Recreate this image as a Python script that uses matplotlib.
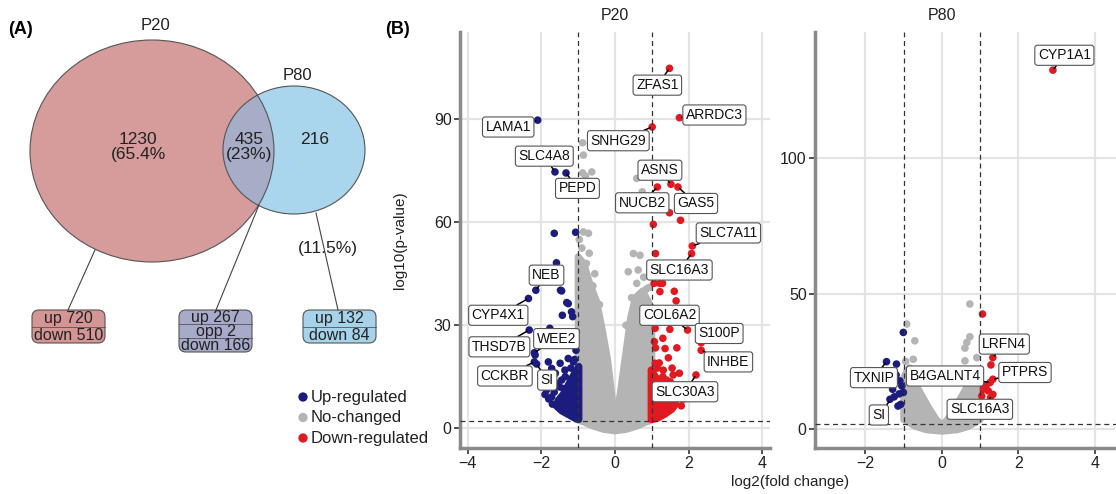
import matplotlib.pyplot as plt
from matplotlib.patches import Ellipse, FancyBboxPatch

plt.rcParams['font.family'] = ['Liberation Sans', 'DejaVu Sans']

# ---------------- data ----------------
venn_names = ['P20', 'P80']
venn_counts = [1230, 435, 216]
venn_pcts = ['(65.4%', '(23%)', '(11.5%)']
box_rows = [['up 720', 'down 510'], ['up 267', 'opp 2', 'down 166'], ['up 132', 'down 84']]

groups = ['Up-regulated', 'No-changed', 'Down-regulated']
group_colors = ['#1c1c7e', '#b4b4b4', '#e11a22']

# P20 volcano: sparse points (log2FC, -log10 p)
p20_up_x = [-2.10, -1.63, -1.33, -1.65, -1.07, -1.59, -2.15, -2.35, -1.45, -1.48, -1.27, -1.18,
            -1.43, -1.15, -1.77, -2.33, -2.19, -2.19, -2.13, -2.17, -1.81, -1.72, -1.49, -1.36,
            -1.27, -1.13, -1.06, -1.86, -1.72, -1.95, -1.59, -1.95, -1.31, -1.05, -1.22,
            -1.80, -1.70, -1.50, -1.35, -1.20, -1.10, -1.65, -1.45, -1.90, -1.62, -1.40, -1.28]
p20_up_y = [89.8, 74.7, 74.4, 56.8, 57.1, 48.2, 40.2, 37.8, 40.0, 40.2, 36.3, 33.9,
            32.9, 32.5, 29.1, 28.6, 22.0, 19.3, 18.7, 21.3, 19.3, 17.4, 18.9, 16.9,
            20.3, 19.3, 22.7, 11.1, 9.1, 14.5, 13.0, 24.7, 36.6, 28.0, 26.0,
            8.5, 7.0, 12.0, 15.0, 17.5, 20.0, 10.5, 14.0, 9.8, 16.0, 11.5, 9.5]
p20_nc_x = [-0.88, -0.86, -0.88, -0.63, -0.80, -0.86, -0.72, -0.97, -0.90, -0.70, -0.78, -0.55,
            0.59, 0.74, 0.50, 0.68, 0.36, 0.63, 0.59, 0.78, 0.85, 0.45, -0.60, -0.42, 0.30, 0.92]
p20_nc_y = [83.2, 79.6, 74.4, 74.7, 73.5, 57.2, 56.8, 55.0, 52.5, 51.0, 48.0, 45.0,
            72.8, 68.9, 50.9, 50.4, 45.6, 46.1, 42.2, 44.0, 40.5, 38.0, 41.5, 36.0, 30.0, 41.0]
p20_down_x = [1.48, 1.75, 1.01, 1.15, 1.52, 1.71, 1.48, 1.78, 1.04, 2.10, 2.08, 1.10,
              1.22, 1.29, 1.06, 1.22, 1.61, 1.66, 1.04, 1.09, 1.49, 1.97, 1.30, 1.07,
              1.10, 1.36, 1.68, 2.34, 2.34, 2.20, 1.45, 1.20, 1.55, 1.75, 1.31, 1.58, 1.09,
              1.75, 1.86, 1.70, 1.50, 1.30, 1.15, 1.80, 1.60, 1.40, 1.90]
p20_down_y = [104.9, 90.5, 87.8, 70.3, 71.1, 70.3, 62.8, 60.6, 59.4, 53.1, 50.9, 50.9,
              42.2, 42.2, 42.2, 39.8, 39.9, 37.1, 34.6, 29.1, 28.8, 28.6, 26.2, 25.2,
              23.4, 23.2, 23.4, 24.9, 22.7, 15.5, 20.5, 19.0, 17.5, 16.0, 16.9, 15.5, 18.9,
              10.0, 8.5, 12.0, 13.5, 15.0, 17.5, 6.5, 11.0, 14.0, 10.5]

# P20 dense clouds (outlines)
p20_nc_left_x = [-1.0, -1.0, -0.85, -0.68, -0.5, -0.35, -0.2, -0.08, 0.0, 0.0, -0.3, -0.6, -0.85]
p20_nc_left_y = [2.3, 50, 48, 42, 37, 29, 20, 9, 2, -0.8, -0.4, 0.6, 1.8]
p20_nc_right_x = [0.0, 0.14, 0.32, 0.42, 0.55, 0.75, 0.9, 1.0, 1.0, 0.85, 0.6, 0.3, 0.0]
p20_nc_right_y = [2, 10, 24, 32, 38, 40, 37, 35, 2.3, 1.8, 0.6, -0.4, -0.8]
p20_up_cloud_x = [-0.98, -0.98, -1.1, -1.25, -1.4, -1.55, -1.6, -1.45, -1.25, -1.05]
p20_up_cloud_y = [2.5, 18, 16, 13, 10, 8, 6.5, 5.0, 3.8, 2.6]
p20_down_cloud_x = [0.98, 0.98, 1.1, 1.25, 1.4, 1.55, 1.65, 1.55, 1.35, 1.15]
p20_down_cloud_y = [2.5, 17, 15, 13, 11, 9, 7, 5.5, 4.0, 2.8]

p20_genes = ['ZFAS1', 'ARRDC3', 'LAMA1', 'SNHG29', 'SLC4A8', 'PEPD', 'ASNS', 'NUCB2', 'GAS5',
             'SLC7A11', 'SLC16A3', 'NEB', 'CYP4X1', 'COL6A2', 'S100P', 'WEE2', 'THSD7B',
             'INHBE', 'CCKBR', 'SI', 'SLC30A3']
p20_gene_x = [1.48, 1.75, -2.10, 1.01, -1.63, -1.33, 1.52, 1.15, 1.71, 2.10, 2.08, -2.15, -2.35,
              1.97, 2.34, -2.19, -2.33, 2.34, -2.19, -2.13, 2.20]
p20_gene_y = [104.9, 90.5, 89.8, 87.8, 74.7, 74.4, 71.1, 70.3, 70.3, 53.1, 50.9, 40.2, 37.8,
              28.6, 24.9, 22.0, 28.6, 22.7, 19.3, 18.7, 15.5]
p20_label_pos = [(1.15, 100), (2.70, 91.3), (-2.90, 87.8), (0.09, 83.8), (-1.92, 79.3),
                 (-1.02, 69.9), (1.22, 75.2), (0.74, 65.7), (2.20, 65.5), (3.08, 56.9),
                 (1.75, 46.1), (-1.86, 44.6), (-3.17, 32.9), (1.48, 32.9), (2.83, 27.6),
                 (-1.59, 26.1), (-3.14, 23.7), (3.08, 19.3), (-2.99, 15.2), (-1.84, 14.0),
                 (1.90, 10.6)]

# P80 volcano
p80_up_x = [-1.01, -1.45, -1.19, -1.10, -1.05, -1.29, -1.01, -1.25, -1.36, -1.08, -1.15, -1.20, -1.12]
p80_up_y = [35.7, 24.9, 24.0, 17.8, 15.9, 14.7, 13.5, 11.9, 11.0, 9.1, 8.5, 20.0, 13.0]
p80_nc_x = [0.73, -0.92, -0.71, 0.73, 0.65, 0.60, -0.75, 0.60, 0.91, -0.85, -0.95, 0.85]
p80_nc_y = [46.2, 38.8, 32.6, 34.1, 32.0, 29.9, 25.8, 25.2, 26.4, 22.5, 25.0, 22.0]
p80_down_x = [2.90, 1.06, 1.33, 1.28, 1.33, 1.26, 1.08, 1.21, 1.33, 1.04, 1.27, 1.15]
p80_down_y = [132.6, 42.5, 26.4, 23.7, 18.4, 17.2, 14.7, 14.1, 12.8, 12.2, 11.6, 16.0]
p80_nc_cloud_x = [-1.0, -1.0, -0.9, -0.75, -0.55, -0.35, -0.15, 0.0, 0.15, 0.35, 0.55, 0.75,
                  0.9, 1.0, 1.0, 0.7, 0.4, 0.0, -0.4, -0.7]
p80_nc_cloud_y = [3.5, 19, 22, 18, 13, 8, 3.5, 1.5, 3.5, 8, 13, 18, 22, 19, 3.5, 1.0, -0.3, -0.8, -0.3, 1.0]

p80_genes = ['CYP1A1', 'LRFN4', 'PTPRS', 'B4GALNT4', 'TXNIP', 'SI', 'SLC16A3']
p80_gene_x = [2.90, 1.33, 1.33, 1.26, -1.45, -1.35, 1.27]
p80_gene_y = [132.6, 26.4, 18.4, 17.2, 24.9, 10.7, 11.6]
p80_label_pos = [(3.20, 138.1), (1.63, 31.4), (2.17, 20.9), (0.08, 19.6), (-1.78, 19.0),
                 (-1.65, 5.2), (0.99, 7.3)]

# ---------------- figure ----------------
fig = plt.figure(figsize=(11.16, 4.94), dpi=100)
bg = fig.add_axes([0, 0, 1, 1])
bg.set_xlim(0, 1116)
bg.set_ylim(494, 0)
bg.axis('off')

venn_cols = ['#d69b9b', '#a9d6ec', '#a7adc7']
edge = '#555555'

# Venn (pixel coordinates of the left panel)
e20 = Ellipse((152, 151), 244, 222, fc=venn_cols[0], ec='none')
e80 = Ellipse((294, 150), 142, 128, fc=venn_cols[1], ec='none')
bg.add_patch(e20)
bg.add_patch(e80)
ov = Ellipse((294, 150), 142, 128, fc=venn_cols[2], ec='none')
bg.add_patch(ov)
ov.set_clip_path(e20)
bg.add_patch(Ellipse((152, 151), 244, 222, fc='none', ec=edge, lw=0.8))
bg.add_patch(Ellipse((294, 150), 142, 128, fc='none', ec=edge, lw=0.8))

bg.text(155, 25, venn_names[0], fontsize=12, ha='center', va='center', color='#222')
bg.text(297, 75, venn_names[1], fontsize=12, ha='center', va='center', color='#222')
bg.text(138, 147, f'{venn_counts[0]}\n{venn_pcts[0]}', fontsize=12.5, ha='center', va='center',
        color='#222', linespacing=1.0)
bg.text(249, 147, f'{venn_counts[1]}\n{venn_pcts[1]}', fontsize=12.5, ha='center', va='center',
        color='#222', linespacing=1.0)
bg.text(315, 139, str(venn_counts[2]), fontsize=12.5, ha='center', va='center', color='#222')
bg.text(328, 248, venn_pcts[2], fontsize=12.5, ha='center', va='center', color='#222')

# boxes with up/down counts
box_x = [(32, 105), (179, 252), (303, 376)]
box_h = [33, 42, 33]
box_cols = ['#d49595', '#a7aac8', '#a6d3ea']
leaders = [((95, 250), (68, 310)), ((259, 205), (216, 310)), ((316, 213), (338, 310))]
for rows, (x0, x1), h, c, (p0, p1) in zip(box_rows, box_x, box_h, box_cols, leaders):
    top = 310
    bg.plot([p0[0], p1[0]], [p0[1], p1[1]], color='#444', lw=0.8)
    bg.add_patch(FancyBboxPatch((x0, top), x1 - x0, h,
                                boxstyle='round,pad=0,rounding_size=7',
                                fc=c, ec=edge, lw=0.8))
    rh = h / len(rows)
    for i, r in enumerate(rows):
        bg.text((x0 + x1) / 2, top + rh * (i + 0.5) + 0.5, r, fontsize=11.5,
                ha='center', va='center', color='#222')
        if i > 0:
            bg.plot([x0, x1], [top + rh * i, top + rh * i], color=edge, lw=0.6)

bg.text(8, 30, '(A)', fontsize=13, fontweight='bold', va='center')
bg.text(385, 30, '(B)', fontsize=13, fontweight='bold', va='center')

# legend
for i, (g, c) in enumerate(zip(groups, group_colors)):
    yy = 397 + i * 20.5
    bg.scatter([303], [yy], s=45, color=c, edgecolors='none')
    bg.text(311, yy, g, fontsize=12, va='center', color='#222')

bg.text(615, 15, 'P20', fontsize=11.5, ha='center', va='center', color='#222')
bg.text(942, 15, 'P80', fontsize=11.5, ha='center', va='center', color='#222')
bg.text(400, 240, 'log10(p-value)', fontsize=11, rotation=90, ha='center', va='center', color='#222')
bg.text(790, 482, 'log2(fold change)', fontsize=11, ha='center', va='center', color='#222')


def volcano(ax, clouds, pts, genes, gx, gy, lpos, xlim, ylim, xticks, yticks):
    for cx, cy, c in clouds:
        ax.fill(cx, cy, color=c, lw=5, joinstyle='round', zorder=2)
    for x, y, c in pts:
        ax.scatter(x, y, s=30, color=c, edgecolors='none', zorder=3)
    for v in (-1, 1):
        ax.axvline(v, color='#333', lw=0.9, ls=(0, (4, 3)), zorder=4)
    ax.axhline(2, color='#333', lw=0.9, ls=(0, (4, 3)), zorder=4)
    for g, x, y, (lx, ly) in zip(genes, gx, gy, lpos):
        ax.annotate(g, xy=(x, y), xytext=(lx, ly), fontsize=10, ha='center', va='center',
                    color='#111', zorder=6,
                    bbox=dict(boxstyle='round,pad=0.22,rounding_size=0.2', fc='white',
                              ec='#555', lw=0.8),
                    arrowprops=dict(arrowstyle='-', color='black', lw=1.1,
                                    shrinkA=0, shrinkB=1.5))
    ax.set_xlim(*xlim)
    ax.set_ylim(*ylim)
    ax.set_xticks(xticks)
    ax.set_yticks(yticks)
    ax.grid(color='#e4e4e4', lw=1.6, zorder=0)
    ax.set_axisbelow(True)
    for s in ('top', 'right'):
        ax.spines[s].set_visible(False)
    for s in ('left', 'bottom'):
        ax.spines[s].set_color('#8a8a8a')
        ax.spines[s].set_linewidth(2.5)
    ax.tick_params(direction='out', length=4, width=1.2, color='#333',
                   labelsize=11.5, labelcolor='#222', pad=2)


ax1 = fig.add_axes([460 / 1116, 46 / 494, 310 / 1116, 416 / 494])
volcano(ax1,
        [(p20_nc_left_x, p20_nc_left_y, group_colors[1]),
         (p20_nc_right_x, p20_nc_right_y, group_colors[1]),
         (p20_up_cloud_x, p20_up_cloud_y, group_colors[0]),
         (p20_down_cloud_x, p20_down_cloud_y, group_colors[2])],
        [(p20_nc_x, p20_nc_y, group_colors[1]),
         (p20_up_x, p20_up_y, group_colors[0]),
         (p20_down_x, p20_down_y, group_colors[2])],
        p20_genes, p20_gene_x, p20_gene_y, p20_label_pos,
        (-4.21, 4.21), (-5.8, 115.5), [-4, -2, 0, 2, 4], [0, 30, 60, 90])

ax2 = fig.add_axes([815 / 1116, 46 / 494, 301 / 1116, 416 / 494])
volcano(ax2,
        [(p80_nc_cloud_x, p80_nc_cloud_y, group_colors[1])],
        [(p80_nc_x, p80_nc_y, group_colors[1]),
         (p80_up_x, p80_up_y, group_colors[0]),
         (p80_down_x, p80_down_y, group_colors[2])],
        p80_genes, p80_gene_x, p80_gene_y, p80_label_pos,
        (-3.32, 4.55), (-7.0, 146.7), [-2, 0, 2, 4], [0, 50, 100])

fig.savefig('out.png', dpi=100)
